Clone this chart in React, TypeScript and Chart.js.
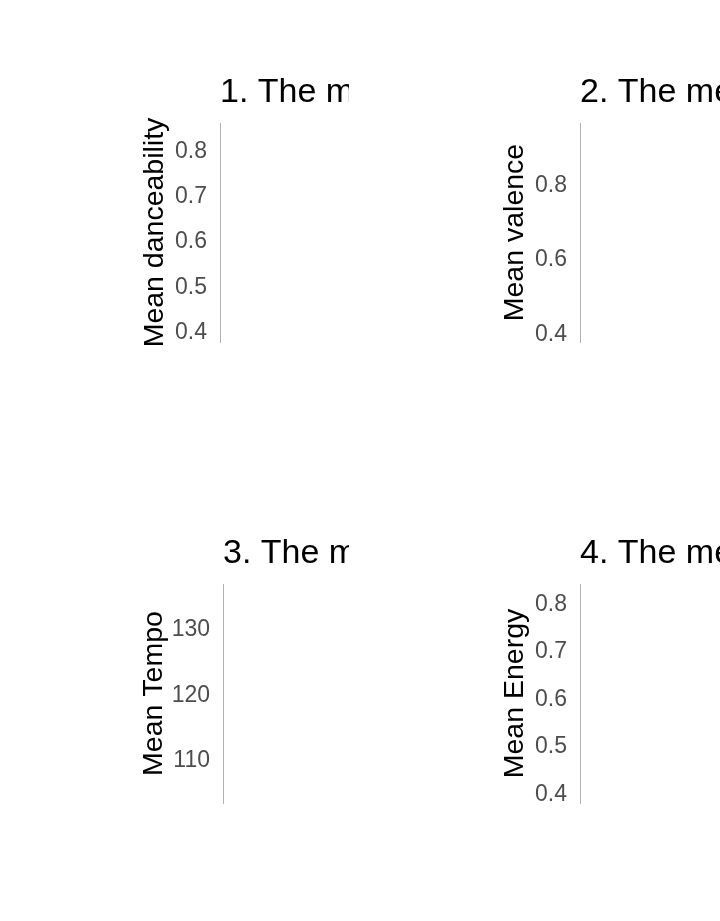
import React, { useEffect, useRef } from "react";
import { Chart, registerables } from "chart.js";

Chart.register(...registerables);

// ---- data ----
const panelTitles = [
  "1. The mean danceability of songs over time",
  "2. The mean valence of songs over time",
  "3. The mean tempo of songs over time",
  "4. The mean energy of songs over time",
];
const yAxisTitles = ["Mean danceability", "Mean valence", "Mean Tempo", "Mean Energy"];
const yMins = [0.38, 0.379, 103.43, 0.382];
const yMaxs = [0.862, 0.9686, 137.08, 0.8425];
const ySteps = [0.1, 0.2, 10, 0.1];
// No marks are visible inside the shown part of each panel.
const xCategories: string[] = [];
const seriesValues: number[][] = [[], [], [], []];

// ---- layout / style ----
const FONT = "'Liberation Sans', Arial, sans-serif";
const panels = [
  { left: 0, top: 0, w: 349, h: 460, axisX: 220, plotTop: 123, plotBottom: 342, titleBase: 102, yTitleX: 163 },
  { left: 360, top: 0, w: 360, h: 460, axisX: 220, plotTop: 123, plotBottom: 342, titleBase: 102, yTitleX: 163 },
  { left: 0, top: 461, w: 349, h: 460, axisX: 223, plotTop: 123, plotBottom: 342, titleBase: 102, yTitleX: 162 },
  { left: 360, top: 461, w: 360, h: 460, axisX: 220, plotTop: 123, plotBottom: 342, titleBase: 102, yTitleX: 163 },
];

function Panel({ idx }: { idx: number }) {
  const ref = useRef<HTMLCanvasElement>(null);
  const box = panels[idx];
  useEffect(() => {
    const textPlugin = {
      id: "panelText" + idx,
      afterDraw(chart: any) {
        const { ctx, chartArea } = chart;
        ctx.save();
        ctx.fillStyle = "#000000";
        ctx.font = `34px ${FONT}`;
        ctx.textAlign = "left";
        ctx.textBaseline = "alphabetic";
        ctx.fillText(panelTitles[idx], chartArea.left, box.titleBase);
        ctx.translate(box.yTitleX, (chartArea.top + chartArea.bottom) / 2);
        ctx.rotate(-Math.PI / 2);
        ctx.font = `28.5px ${FONT}`;
        ctx.textAlign = "center";
        ctx.fillText(yAxisTitles[idx], 0, 0);
        ctx.restore();
      },
    };
    const chart = new Chart(ref.current as HTMLCanvasElement, {
      type: "line",
      data: {
        labels: xCategories,
        datasets: [{ data: seriesValues[idx], borderColor: "#000000", pointRadius: 0 }],
      },
      options: {
        animation: false,
        responsive: false,
        maintainAspectRatio: false,
        layout: { padding: { left: 0, right: 0, top: box.plotTop, bottom: box.h - box.plotBottom } },
        plugins: { legend: { display: false }, tooltip: { enabled: false }, title: { display: false } },
        scales: {
          x: { display: false },
          y: {
            min: yMins[idx],
            max: yMaxs[idx],
            afterFit: (s: any) => {
              s.width = box.axisX;
            },
            grid: { display: false, drawTicks: false },
            border: { display: true, color: "#b3b3b3", width: 1 },
            ticks: {
              stepSize: ySteps[idx],
              includeBounds: false,
              padding: 13,
              color: "#4d4d4d",
              font: { family: FONT, size: 23, lineHeight: 1.2 },
            },
          },
        },
      },
      plugins: [textPlugin],
    });
    return () => chart.destroy();
  }, []);
  return (
    <div
      style={{
        position: "absolute",
        left: box.left,
        top: box.top,
        width: box.w,
        height: box.h,
        overflow: "hidden",
      }}
    >
      <canvas ref={ref} width={box.w} height={box.h} style={{ display: "block", width: box.w, height: box.h }} />
    </div>
  );
}

export default function App() {
  return (
    <div style={{ position: "absolute", left: 0, top: 0, width: 720, height: 921, background: "#ffffff", overflow: "hidden" }}>
      {panels.map((_, i) => (
        <Panel key={i} idx={i} />
      ))}
    </div>
  );
}
